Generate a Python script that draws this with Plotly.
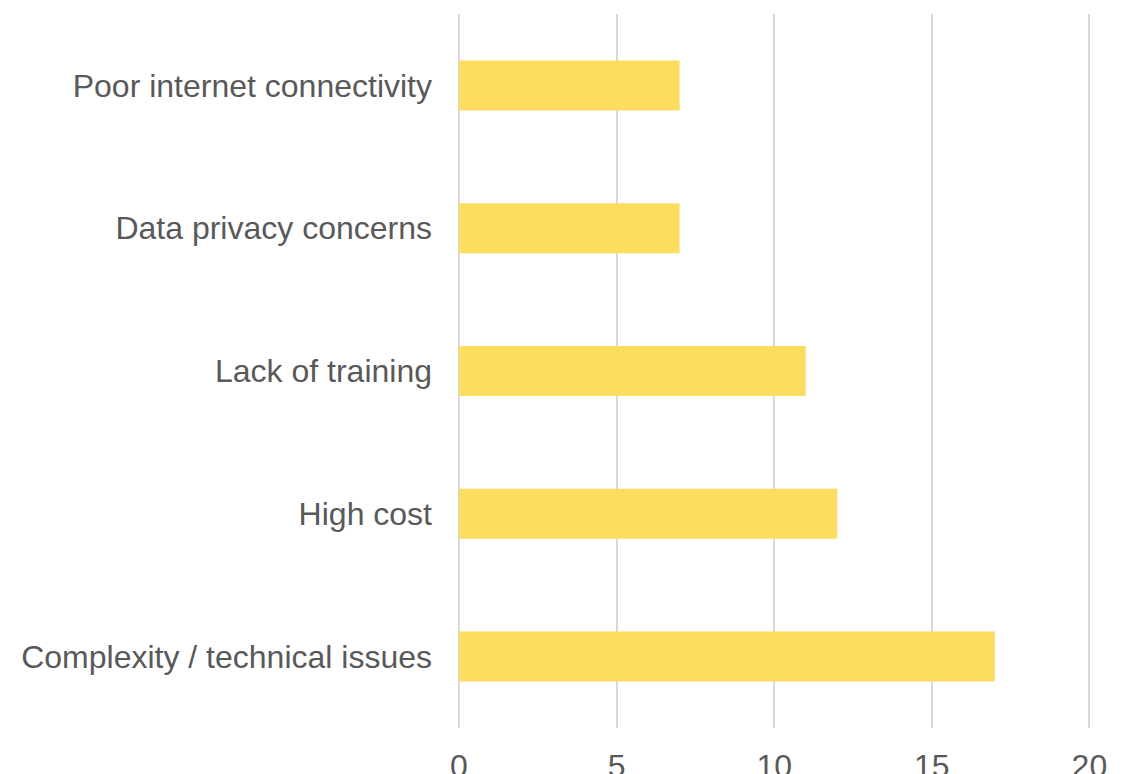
import plotly.graph_objects as go

categories = ["Complexity / technical issues", "High cost", "Lack of training",
              "Data privacy concerns", "Poor internet connectivity"]
values = [17, 12, 11, 7, 7]
x_ticks = [0, 5, 10, 15, 20]

fig = go.Figure(go.Bar(
    x=values, y=categories, orientation="h",
    marker=dict(color="#FCDD5F", line=dict(width=0)),
    width=0.35,
))

fig.update_layout(
    width=1132, height=774,
    margin=dict(l=451, r=49, t=6, b=54, autoexpand=False),
    paper_bgcolor="white", plot_bgcolor="white",
    font=dict(family="Liberation Sans, Arial, sans-serif", color="#595959", size=32),
    showlegend=False,
)
fig.update_xaxes(
    range=[0, 20.05], tickvals=x_ticks, showgrid=True, gridcolor="#D9D9D9", gridwidth=2,
    zeroline=True, zerolinecolor="#D9D9D9", zerolinewidth=2,
    showline=False, ticks="", tickfont=dict(size=32, color="#595959"),
    ticklabelstandoff=16, automargin=False,
)
fig.update_yaxes(
    showgrid=False, zeroline=False, showline=False, ticks="",
    tickfont=dict(size=32, color="#595959"), ticklabelstandoff=26, automargin=False,
)

fig.write_html("out.html")
